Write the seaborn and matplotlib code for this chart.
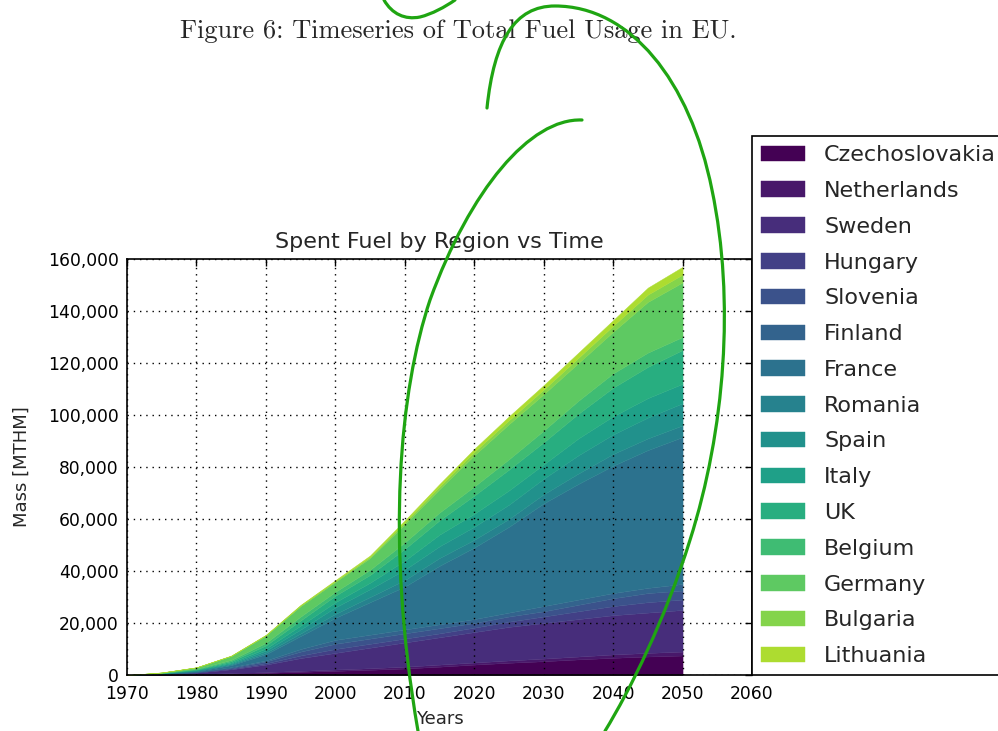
import numpy as np
import pandas as pd
import matplotlib
matplotlib.use("Agg")
import matplotlib.pyplot as plt
from matplotlib.path import Path
from matplotlib.patches import PathPatch
from matplotlib.ticker import FuncFormatter, MultipleLocator
import seaborn as sns

# Spent fuel discharged per region [MTHM], cumulative mass at each year
years = [1970, 1975, 1980, 1985, 1990, 1995, 2000, 2005, 2010,
         2015, 2020, 2025, 2030, 2035, 2040, 2045, 2050]

czechoslovakia = [0, 100, 300, 500, 800, 1200, 1600, 2000, 2500,
                  3200, 4000, 4700, 5300, 6000, 6600, 7100, 7500]
netherlands = [0, 50, 100, 200, 300, 400, 500, 600, 700,
               800, 800, 900, 1000, 1100, 1300, 1400, 1500]
sweden = [0, 150, 500, 1500, 2900, 4900, 6400, 7900, 9300,
          10500, 11700, 12900, 13700, 14400, 15100, 15500, 16000]
hungary = [0, 50, 100, 300, 500, 1000, 1500, 1500, 1500,
           1500, 1700, 2000, 2500, 3000, 3500, 4000, 4000]
slovenia = [0, 50, 100, 300, 700, 1500, 2000, 2000, 2000,
            2000, 1800, 2000, 2000, 2500, 3000, 3500, 3500]
finland = [0, 50, 100, 200, 400, 1000, 1500, 1500, 1500,
           1500, 1500, 1500, 2000, 2000, 2000, 2000, 2500]
france = [0, 100, 300, 800, 2400, 5000, 8500, 12500, 16500,
          22500, 27500, 33000, 39500, 44500, 49000, 53000, 56500]
romania = [0, 50, 150, 300, 600, 1000, 1500, 2000, 2500,
           3000, 3000, 3000, 3500, 4000, 4500, 4500, 4500]
spain = [0, 50, 150, 300, 800, 1500, 2500, 3000, 4000,
         4500, 5000, 5500, 6000, 7000, 7500, 8000, 8500]
italy = [0, 50, 150, 400, 800, 1500, 2000, 2500, 3500,
         4500, 5000, 5500, 5500, 6500, 7000, 7500, 7500]
uk = [0, 50, 200, 500, 1200, 2000, 2500, 3000, 4500,
      5500, 7000, 8000, 8500, 9500, 11000, 12000, 13000]
belgium = [0, 50, 200, 500, 1000, 1500, 1500, 2000, 2500,
           3000, 3500, 4000, 4500, 5000, 5500, 5500, 5000]
germany = [0, 150, 550, 1500, 2800, 4000, 3800, 4500, 7000,
           9000, 12000, 13500, 14000, 14500, 16000, 19500, 21000]
bulgaria = [0, 30, 60, 100, 150, 300, 400, 500, 800,
            1000, 1300, 1500, 1800, 2000, 2300, 2800, 3000]
lithuania = [0, 20, 40, 100, 150, 200, 300, 500, 700,
             1000, 1200, 1500, 1700, 2000, 2200, 2700, 3000]

regions = ["Czechoslovakia", "Netherlands", "Sweden", "Hungary", "Slovenia",
           "Finland", "France", "Romania", "Spain", "Italy", "UK",
           "Belgium", "Germany", "Bulgaria", "Lithuania"]
series = [czechoslovakia, netherlands, sweden, hungary, slovenia, finland,
          france, romania, spain, italy, uk, belgium, germany, bulgaria,
          lithuania]

df = pd.DataFrame(dict(zip(regions, series)), index=years)

sns.set_theme(style="white")
plt.rcParams["font.family"] = ["DejaVu Sans"]

cmap = sns.color_palette("viridis", as_cmap=True)
colors = [cmap(i / 16) for i in range(len(regions))]

fig = plt.figure(figsize=(9.98, 7.31), dpi=100)
ax = fig.add_axes([0.1273, 0.0766, 0.6262, 0.5691])

polys = ax.stackplot(df.index, *[df[r] for r in regions], labels=regions,
                     colors=colors, linewidth=0.3)
for p, c in zip(polys, colors):
    p.set_edgecolor(c)

ax.set_xlim(1970, 2060)
ax.set_ylim(0, 160000)
ax.xaxis.set_major_locator(MultipleLocator(10))
ax.yaxis.set_major_locator(MultipleLocator(20000))
ax.yaxis.set_major_formatter(FuncFormatter(lambda v, _: f"{v:,.0f}"))

ax.set_axisbelow(False)
ax.grid(True, color="black", linestyle=(0, (1, 3.5)), linewidth=1.0)
ax.tick_params(direction="in", top=True, right=True, length=5, width=1,
               labelsize=12.3, colors="black")
ax.tick_params(axis="x", pad=7)
ax.tick_params(axis="y", pad=6)
for s in ax.spines.values():
    s.set_color("black")
    s.set_linewidth(1.2)

ax.set_title("Spent Fuel by Region vs Time", fontsize=16, pad=8)
ax.set_xlabel("Years", fontsize=13, labelpad=5)
ax.set_ylabel("Mass [MTHM]", fontsize=13, labelpad=12)

leg = ax.legend(loc="lower left", bbox_to_anchor=(1.0, 0.0), borderaxespad=0.0,
                fontsize=16, labelspacing=0.71, handlelength=2.0,
                handletextpad=0.85, frameon=True, fancybox=False,
                framealpha=1.0, edgecolor="black")
leg.get_frame().set_linewidth(1.2)

fig.text(0.459, 0.958, "Figure 6: Timeseries of Total Fuel Usage in EU.",
         family="cmr10", fontsize=19, ha="center", va="center")

# Hand-drawn green pen strokes over the page
def page(x, y):
    return (x / 998.0, 1.0 - y / 731.0)

M, C = Path.MOVETO, Path.CURVE4
strokes = [
    ([(487, 108), (494, 40), (515, 6), (555, 6), (630, 6), (690, 80),
      (712, 190), (735, 300), (725, 430), (690, 540), (665, 620),
      (630, 690), (605, 731)], [M] + [C] * 12),
    ([(582, 120), (530, 118), (470, 190), (430, 300), (400, 390),
      (385, 540), (418, 731)], [M] + [C] * 6),
    ([(384, 0), (392, 14), (405, 20), (420, 17), (432, 14), (445, 7),
      (455, 0)], [M] + [C] * 6),
]
for pts, codes in strokes:
    path = Path([page(x, y) for x, y in pts], codes)
    fig.add_artist(PathPatch(path, transform=fig.transFigure, facecolor="none",
                             edgecolor="#1fa512", linewidth=2.3,
                             capstyle="round", zorder=20))

fig.savefig("out.png", dpi=100)
